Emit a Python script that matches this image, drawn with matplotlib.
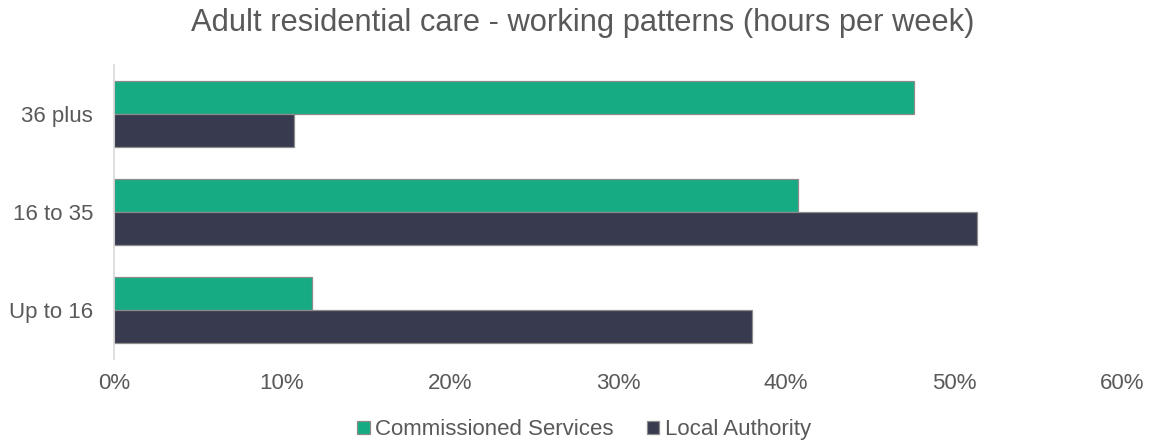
import matplotlib.pyplot as plt
import numpy as np

plt.rcParams['font.family'] = ['Liberation Sans', 'DejaVu Sans']

categories = ['Up to 16', '16 to 35', '36 plus']
commissioned = [11.8, 40.7, 47.6]
local_authority = [38.0, 51.4, 10.7]
series_names = ['Commissioned Services', 'Local Authority']
xticks = [0, 10, 20, 30, 40, 50, 60]

green = '#17ab84'
navy = '#383a4f'
grey_text = '#595959'

fig = plt.figure(figsize=(11.5, 4.43), dpi=100)
ax = fig.add_axes([0.0991, 0.1896, 0.8765, 0.6637])

y = np.arange(len(categories))
h = 0.33
ax.barh(y + 0.168, commissioned, height=h, color=green, edgecolor='#8c8c8c',
        linewidth=0.9, label=series_names[0])
ax.barh(y - 0.168, local_authority, height=h, color=navy, edgecolor='#8c8c8c',
        linewidth=0.9, label=series_names[1])

ax.set_xlim(0, 60)
ax.set_ylim(-0.5, 2.5)
ax.set_xticks(xticks)
ax.set_xticklabels([f'{t}%' for t in xticks])
ax.set_yticks(y)
ax.set_yticklabels(categories)
ax.tick_params(axis='both', length=0, labelsize=16, colors=grey_text)
ax.tick_params(axis='x', pad=10)
ax.tick_params(axis='y', pad=15)

for side in ['top', 'right', 'bottom']:
    ax.spines[side].set_visible(False)
ax.spines['left'].set_color('#d9d9d9')
ax.spines['left'].set_linewidth(1.2)

fig.suptitle('Adult residential care - working patterns (hours per week)',
             fontsize=22.2, color=grey_text, x=0.507, y=0.982)

handles, labels = ax.get_legend_handles_labels()
fig.legend(handles, labels, loc='center', bbox_to_anchor=(0.508, 0.03), ncol=2,
           frameon=False, fontsize=16, labelcolor=grey_text, handlelength=0.55,
           handleheight=0.55, handletextpad=0.25, columnspacing=1.5)

fig.savefig('out.png', dpi=100)
